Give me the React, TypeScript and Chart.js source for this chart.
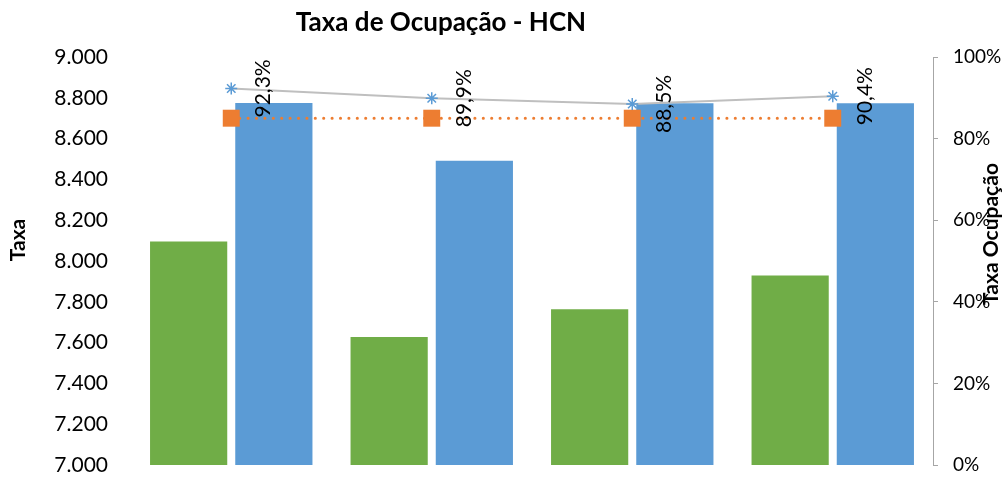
import React, { useEffect, useRef } from 'react';
import { Chart, registerables } from 'chart.js';

Chart.register(...registerables);

const categories = ['1', '2', '3', '4'];
const taxaA = [8095, 7627, 7763, 7929];
const taxaB = [8775, 8491, 8773, 8773];
const ocupacao = [92.3, 89.9, 88.5, 90.4];
const metaOcupacao = [85, 85, 85, 85];
const leftMin = 7000;
const leftMax = 9000;
const leftStep = 200;
const rightMin = 0;
const rightMax = 100;
const rightStep = 20;

const chartTitle = 'Taxa de Ocupação - HCN';
const leftTitle = 'Taxa';
const rightTitle = 'Taxa Ocupação';

const FONT = 'Lato';

const fmtThousands = (v: number) =>
  Math.round(v).toString().replace(/\B(?=(\d{3})+(?!\d))/g, '.');
const fmtPct = (v: number) => v.toFixed(1).replace('.', ',') + '%';

const textPlugin = {
  id: 'customTexts',
  afterDatasetsDraw(chart: any) {
    const ctx = chart.ctx;
    const meta = chart.getDatasetMeta(0);
    ctx.save();
    ctx.fillStyle = '#000000';
    ctx.font = `21px ${FONT}`;
    ctx.textAlign = 'center';
    ctx.textBaseline = 'middle';
    meta.data.forEach((pt: any, i: number) => {
      ctx.save();
      ctx.translate(pt.x + 32, pt.y);
      ctx.rotate(-Math.PI / 2);
      ctx.fillText(fmtPct(ocupacao[i]), 0, 0);
      ctx.restore();
    });
    ctx.restore();
  },
  afterDraw(chart: any) {
    const ctx = chart.ctx;
    ctx.save();
    ctx.fillStyle = '#000000';
    ctx.textAlign = 'center';
    ctx.textBaseline = 'middle';
    ctx.font = `bold 26px ${FONT}`;
    ctx.fillText(chartTitle, 441, 23);

    ctx.font = `bold 21px ${FONT}`;
    ctx.save();
    ctx.translate(18, 240);
    ctx.rotate(-Math.PI / 2);
    ctx.fillText(leftTitle, 0, 0);
    ctx.restore();

    ctx.save();
    ctx.translate(991, 234);
    ctx.rotate(-Math.PI / 2);
    ctx.fillText(rightTitle, 0, 0);
    ctx.restore();
    ctx.restore();
  },
};

export default function App() {
  const canvasRef = useRef<HTMLCanvasElement | null>(null);

  useEffect(() => {
    if (!canvasRef.current) return;
    const chart = new Chart(canvasRef.current, {
      type: 'bar',
      data: {
        labels: categories,
        datasets: [
          {
            type: 'line',
            label: 'Taxa Ocupação',
            data: ocupacao,
            yAxisID: 'y1',
            borderColor: '#bfbfbf',
            borderWidth: 2,
            pointStyle: 'star',
            pointRadius: 6,
            pointBorderColor: '#5b9bd5',
            pointBackgroundColor: '#5b9bd5',
            pointBorderWidth: 1.5,
            order: 0,
          } as any,
          {
            type: 'line',
            label: 'Meta',
            data: metaOcupacao,
            yAxisID: 'y1',
            borderColor: '#ed7d31',
            borderWidth: 3,
            borderDash: [0.1, 8.3],
            borderCapStyle: 'round',
            pointStyle: 'rect',
            pointRadius: 12,
            pointBorderWidth: 0,
            pointBackgroundColor: '#ed7d31',
            pointBorderColor: '#ed7d31',
            order: 1,
          } as any,
          {
            label: 'Taxa A',
            data: taxaA,
            yAxisID: 'y',
            backgroundColor: '#70ad47',
            categoryPercentage: 0.85,
            barPercentage: 0.906,
            order: 2,
          },
          {
            label: 'Taxa B',
            data: taxaB,
            yAxisID: 'y',
            backgroundColor: '#5b9bd5',
            categoryPercentage: 0.85,
            barPercentage: 0.906,
            order: 2,
          },
        ],
      },
      options: {
        responsive: false,
        animation: false,
        layout: { padding: { left: 0, right: 0, top: 57, bottom: 11 } },
        plugins: {
          legend: { display: false },
          tooltip: { enabled: false },
          title: { display: false },
        },
        scales: {
          x: {
            display: false,
            offset: true,
          },
          y: {
            position: 'left',
            min: leftMin,
            max: leftMax,
            grid: { display: false, drawTicks: false },
            border: { display: false },
            ticks: {
              stepSize: leftStep,
              padding: 23,
              color: '#000000',
              font: { family: FONT, size: 21 },
              callback: (v: any) => fmtThousands(Number(v)),
            },
            afterFit: (s: any) => {
              s.width = 131;
              s.paddingTop = 0;
              s.paddingBottom = 0;
            },
          },
          y1: {
            position: 'right',
            min: rightMin,
            max: rightMax,
            grid: {
              display: true,
              drawOnChartArea: false,
              drawTicks: true,
              tickLength: 5,
              color: '#a6a6a6',
            },
            border: { display: true, color: '#a6a6a6', width: 1 },
            ticks: {
              stepSize: rightStep,
              padding: 15,
              color: '#000000',
              font: { family: FONT, size: 19 },
              callback: (v: any) => `${v}%`,
            },
            afterFit: (s: any) => {
              s.width = 71;
              s.paddingTop = 0;
              s.paddingBottom = 0;
            },
          },
        },
      } as any,
      plugins: [textPlugin],
    });
    return () => chart.destroy();
  }, []);

  return (
    <div style={{ position: 'absolute', left: 0, top: 0, width: 1004, height: 477, background: '#ffffff' }}>
      <canvas ref={canvasRef} width={1004} height={477} />
    </div>
  );
}
